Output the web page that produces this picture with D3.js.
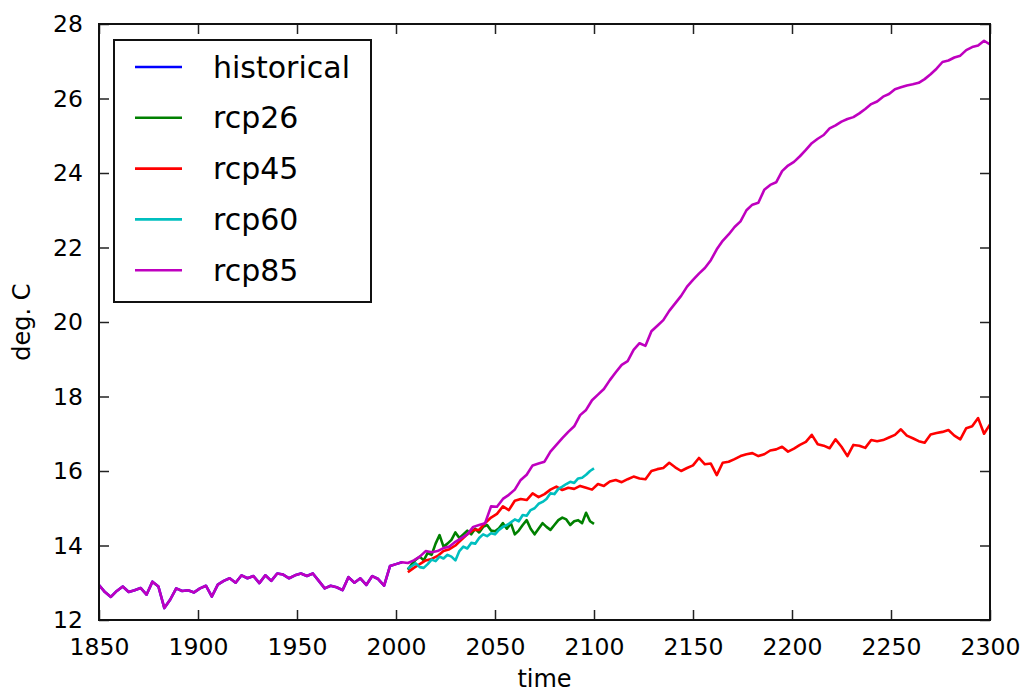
<!DOCTYPE html>
<html>
<head>
<meta charset="utf-8">
<script src="https://cdn.jsdelivr.net/npm/d3@7"></script>
<style>
  body { margin: 0; background: #fff; }
  text { font-family: "DejaVu Sans", sans-serif; fill: #000; }
</style>
</head>
<body>
<div id="chart"></div>
<script>
// data (deg. C)
var histStart = 1850, histStep = 3;
var historical = [12.94, 12.75, 12.62, 12.78, 12.9, 12.75, 12.8, 12.86, 12.68, 13.03,
  12.9, 12.32, 12.55, 12.85, 12.78, 12.8, 12.74, 12.85, 12.92, 12.63,
  12.95, 13.05, 13.12, 13.0, 13.2, 13.12, 13.18, 12.99, 13.2, 13.05,
  13.25, 13.22, 13.12, 13.2, 13.25, 13.18, 13.25, 13.05, 12.85, 12.92,
  12.88, 12.8, 13.15, 13.0, 13.12, 12.94, 13.18, 13.1, 12.92, 13.45,
  13.5, 13.55];

// 2006-2100, every 2 years
var shortStart = 2006, shortStep = 2;
var rcp26 = [13.35, 13.5, 13.62, 13.7, 13.6, 13.8, 13.75, 14.05, 14.28, 13.97,
  14.05, 14.15, 14.35, 14.2, 14.3, 14.4, 14.3, 14.45, 14.35, 14.5,
  14.55, 14.4, 14.38, 14.46, 14.6, 14.45, 14.6, 14.3, 14.4, 14.55,
  14.68, 14.45, 14.3, 14.45, 14.6, 14.5, 14.42, 14.55, 14.68, 14.75,
  14.7, 14.55, 14.65, 14.68, 14.6, 14.88, 14.65, 14.58];
var rcp60 = [13.38, 13.45, 13.52, 13.42, 13.4, 13.5, 13.62, 13.58, 13.7, 13.65,
  13.75, 13.7, 13.6, 13.85, 13.97, 13.92, 14.07, 14.05, 14.2, 14.3,
  14.25, 14.33, 14.3, 14.42, 14.5, 14.55, 14.62, 14.7, 14.65, 14.82,
  14.8, 14.95, 15.0, 15.12, 15.17, 15.25, 15.4, 15.38, 15.52, 15.58,
  15.65, 15.71, 15.68, 15.8, 15.82, 15.9, 16.0, 16.07];

// 2006-2300, every 3 years
var longStart = 2006, longStep = 3;
var rcp45 = [13.28, 13.4, 13.5, 13.6, 13.64, 13.72, 13.85, 13.9, 14.0, 14.15,
  14.3, 14.42, 14.42, 14.6, 14.75, 14.85, 15.05, 14.95, 15.2, 15.25,
  15.22, 15.4, 15.3, 15.38, 15.5, 15.58, 15.49, 15.55, 15.52, 15.6,
  15.55, 15.5, 15.65, 15.6, 15.72, 15.76, 15.7, 15.78, 15.85, 15.8,
  15.78, 16.0, 16.05, 16.08, 16.22, 16.1, 16.0, 16.08, 16.15, 16.35,
  16.18, 16.2, 15.89, 16.22, 16.25, 16.32, 16.4, 16.45, 16.48, 16.4,
  16.45, 16.55, 16.58, 16.65, 16.52, 16.6, 16.7, 16.78, 16.97, 16.72,
  16.68, 16.61, 16.85, 16.65, 16.4, 16.7, 16.68, 16.62, 16.83, 16.8,
  16.83, 16.9, 16.97, 17.12, 16.95, 16.88, 16.8, 16.76, 16.98, 17.02,
  17.05, 17.1, 16.95, 16.85, 17.15, 17.2, 17.42, 17.0, 17.25];
var rcp85 = [13.53, 13.6, 13.7, 13.85, 13.82, 13.85, 13.93, 13.97, 14.1, 14.2,
  14.3, 14.5, 14.55, 14.6, 15.05, 15.04, 15.25, 15.36, 15.5, 15.76,
  15.9, 16.15, 16.2, 16.25, 16.52, 16.7, 16.88, 17.05, 17.2, 17.5,
  17.64, 17.9, 18.05, 18.2, 18.44, 18.65, 18.85, 18.95, 19.25, 19.43,
  19.36, 19.75, 19.9, 20.05, 20.3, 20.5, 20.7, 20.95, 21.13, 21.3,
  21.45, 21.66, 21.95, 22.18, 22.35, 22.55, 22.7, 23.0, 23.15, 23.2,
  23.55, 23.68, 23.75, 24.05, 24.2, 24.3, 24.45, 24.62, 24.8, 24.92,
  25.02, 25.2, 25.28, 25.38, 25.45, 25.5, 25.6, 25.72, 25.85, 25.92,
  26.05, 26.12, 26.25, 26.3, 26.35, 26.38, 26.42, 26.52, 26.65, 26.8,
  26.98, 27.02, 27.1, 27.15, 27.3, 27.38, 27.42, 27.55, 27.45];

var xTicks = [1850, 1900, 1950, 2000, 2050, 2100, 2150, 2200, 2250, 2300];
var yTicks = [12, 14, 16, 18, 20, 22, 24, 26, 28];

function pts(vals, start, step) {
  return vals.map((v, i) => ({year: start + i * step, t: v}));
}

var histPts = pts(historical, histStart, histStep);
var series = [
  {name: "historical", color: "#0000ff", data: histPts},
  {name: "rcp26", color: "#008000", data: pts(rcp26, shortStart, shortStep)},
  {name: "rcp45", color: "#ff0000", data: pts(rcp45, longStart, longStep)},
  {name: "rcp60", color: "#00bfbf", data: pts(rcp60, shortStart, shortStep)},
  // rcp85 run carries the historical period in front
  {name: "rcp85", color: "#bf00bf", data: histPts.concat(pts(rcp85, longStart, longStep))}
];

var svgWidth = 1021;
var svgHeight = 692;
var margin = {top: 24, right: 31, bottom: 72, left: 99};
var width = svgWidth - margin.left - margin.right;
var height = svgHeight - margin.top - margin.bottom;

var svg = d3.select("#chart")
  .append("svg")
  .attr("width", svgWidth)
  .attr("height", svgHeight);

var chartGroup = svg.append("g")
  .attr("transform", `translate(${margin.left}, ${margin.top})`);

var x = d3.scaleLinear().domain([1850, 2300]).range([0, width]);
var y = d3.scaleLinear().domain([12, 28]).range([height, 0]);

// lines
var line = d3.line()
  .x(d => x(d.year))
  .y(d => y(d.t));

chartGroup.append("defs").append("clipPath").attr("id", "clip")
  .append("rect").attr("width", width).attr("height", height);

chartGroup.append("g").attr("clip-path", "url(#clip)")
  .selectAll("path")
  .data(series)
  .enter()
  .append("path")
  .attr("d", d => line(d.data))
  .attr("fill", "none")
  .attr("stroke", d => d.color)
  .attr("stroke-width", 2.6)
  .attr("stroke-linejoin", "round");

// axes, ticks pointing inward on all four sides
var tickLen = 10;
function styleAxis(g) {
  g.select(".domain").remove();
  g.selectAll(".tick line").attr("stroke", "#222").attr("stroke-width", 1.5);
  g.selectAll(".tick text").style("font-size", "23.5px").attr("fill", "#222");
}

chartGroup.append("g")
  .attr("transform", `translate(0, ${height})`)
  .call(d3.axisBottom(x).tickValues(xTicks).tickFormat(d3.format("d"))
    .tickSizeInner(-tickLen).tickSizeOuter(0).tickPadding(18))
  .call(styleAxis);

chartGroup.append("g")
  .call(d3.axisTop(x).tickValues(xTicks).tickFormat("")
    .tickSizeInner(-tickLen).tickSizeOuter(0))
  .call(styleAxis);

chartGroup.append("g")
  .call(d3.axisLeft(y).tickValues(yTicks).tickFormat(d3.format("d"))
    .tickSizeInner(-tickLen).tickSizeOuter(0).tickPadding(16))
  .call(styleAxis);

chartGroup.append("g")
  .attr("transform", `translate(${width}, 0)`)
  .call(d3.axisRight(y).tickValues(yTicks).tickFormat("")
    .tickSizeInner(-tickLen).tickSizeOuter(0))
  .call(styleAxis);

// frame
chartGroup.append("rect")
  .attr("width", width)
  .attr("height", height)
  .attr("fill", "none")
  .attr("stroke", "#111")
  .attr("stroke-width", 2);

// axis labels
chartGroup.append("text")
  .attr("x", width / 2)
  .attr("y", height + 67)
  .attr("text-anchor", "middle")
  .style("font-size", "24px")
  .attr("fill", "#222")
  .text("time");

chartGroup.append("text")
  .attr("transform", `translate(${-margin.left + 30}, ${height / 2}) rotate(-90)`)
  .attr("text-anchor", "middle")
  .style("font-size", "24px")
  .attr("fill", "#222")
  .text("deg. C");

// legend
var legend = chartGroup.append("g")
  .attr("transform", "translate(15, 16)");

legend.append("rect")
  .attr("width", 257)
  .attr("height", 262)
  .attr("fill", "#fff")
  .attr("stroke", "#111")
  .attr("stroke-width", 2);

var items = legend.selectAll(".item")
  .data(series)
  .enter()
  .append("g")
  .attr("transform", (d, i) => `translate(0, ${27 + i * 50.8})`);

items.append("line")
  .attr("x1", 21).attr("x2", 68)
  .attr("stroke", d => d.color)
  .attr("stroke-width", 2.6);

items.append("text")
  .attr("x", 99)
  .attr("dy", "0.35em")
  .style("font-size", "30px")
  .attr("fill", "#222")
  .text(d => d.name);
</script>
</body>
</html>
